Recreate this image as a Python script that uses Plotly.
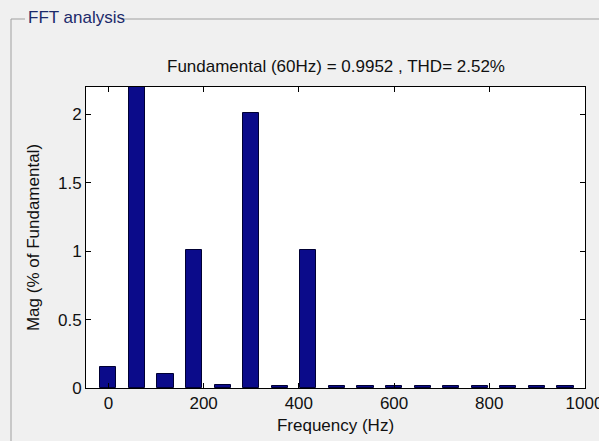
import plotly.graph_objects as go

# Data
freqs = [0, 60, 120, 180, 240, 300, 360, 420, 480, 540, 600, 660, 720, 780, 840, 900, 960]
mags = [0.15, 100.0, 0.10, 1.01, 0.025, 2.01, 0.012, 1.01, 0.012, 0.012, 0.012, 0.012, 0.012, 0.012, 0.012, 0.012, 0.012]
x_ticks = [0, 200, 400, 600, 800, 1000]
y_ticks = [0, 0.5, 1, 1.5, 2]
title_text = "Fundamental (60Hz) = 0.9952 , THD= 2.52%"
panel_title = "FFT analysis"

W, H = 599, 441
ml, mr, mt, mb = 86, 14, 87, 53
pw, ph = W - ml - mr, H - mt - mb

def px(xp):
    return (xp - ml) / pw

def py(yp):
    return (H - mb - yp) / ph

FONT = "Liberation Sans, Arial, sans-serif"
FS = 17
TXT = "#111111"

fig = go.Figure()
fig.add_trace(go.Bar(
    x=freqs, y=mags, width=34,
    marker=dict(color="#0b0b8a", line=dict(color="#000033", width=1)),
))

border = "#a0a0a0"
shapes = [
    dict(type="line", xref="paper", yref="paper", x0=px(11), x1=px(11), y0=py(19), y1=py(445),
         line=dict(color=border, width=1)),
    dict(type="line", xref="paper", yref="paper", x0=px(11), x1=px(25), y0=py(19), y1=py(19),
         line=dict(color=border, width=1)),
    dict(type="line", xref="paper", yref="paper", x0=px(121), x1=px(605), y0=py(19), y1=py(19),
         line=dict(color=border, width=1)),
]

fig.update_layout(
    width=W, height=H,
    margin=dict(l=ml, r=mr, t=mt, b=mb),
    paper_bgcolor="#f0f0f0",
    plot_bgcolor="white",
    showlegend=False,
    font=dict(family=FONT, size=FS, color=TXT),
    shapes=shapes,
    annotations=[
        dict(text=title_text, xref="paper", yref="paper", x=0.5, y=py(66), xanchor="center",
             yanchor="middle", showarrow=False, font=dict(family=FONT, size=FS, color=TXT)),
        dict(text=panel_title, xref="paper", yref="paper", x=px(26), y=py(18), xanchor="left",
             yanchor="middle", showarrow=False, font=dict(family=FONT, size=FS, color="#1c2a6a")),
    ],
    bargap=0,
)
fig.update_xaxes(
    range=[-47, 1001], tickvals=x_ticks, ticktext=[str(v) for v in x_ticks],
    ticks="inside", ticklen=5, tickcolor="black", showline=True, linecolor="black", linewidth=1,
    mirror="ticks", showgrid=False, zeroline=False, ticklabeloverflow="allow", automargin=False,
    tickfont=dict(family=FONT, size=FS, color=TXT),
    title=dict(text="Frequency (Hz)", standoff=6, font=dict(family=FONT, size=FS, color=TXT)),
)
fig.update_yaxes(
    range=[0, 2.2], tickvals=y_ticks, ticktext=["0", "0.5", "1", "1.5", "2"],
    ticks="inside", ticklen=5, tickcolor="black", showline=True, linecolor="black", linewidth=1,
    mirror="ticks", showgrid=False, zeroline=False, automargin=False,
    tickfont=dict(family=FONT, size=FS, color=TXT),
    title=dict(text="Mag (% of Fundamental)", standoff=14, font=dict(family=FONT, size=FS, color=TXT)),
)

fig.write_html("out.html")
